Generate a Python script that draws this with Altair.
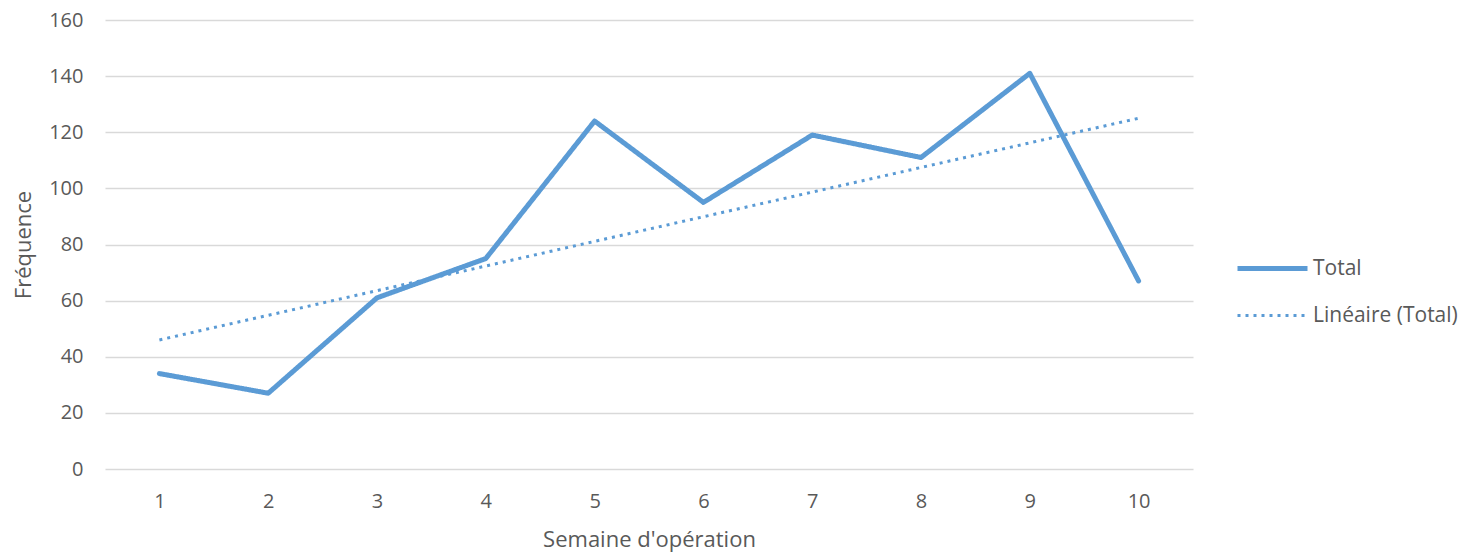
import altair as alt
import pandas as pd

# Weekly totals
weeks = [1, 2, 3, 4, 5, 6, 7, 8, 9, 10]
totals = [34, 27, 61, 75, 124, 95, 119, 111, 141, 67]

# Linear trendline endpoints (first and last week)
trend_weeks = [1, 10]
trend_values = [46, 125]

series_names = ["Total", "Linéaire (Total)"]

BLUE = "#5B9BD5"
TEXT = "#595959"
FONT = "Open Sans"
LABEL_SIZE = 20
TITLE_SIZE = 22

df_total = pd.DataFrame({"week": weeks, "value": totals, "series": series_names[0]})
df_trend = pd.DataFrame({"week": trend_weeks, "value": trend_values, "series": series_names[1]})

x_enc = alt.X(
    "week:O",
    scale=alt.Scale(domain=weeks),
    axis=alt.Axis(
        title="Semaine d'opération",
        labelAngle=0,
        grid=False,
        domain=False,
        ticks=False,
        labelFont=FONT,
        labelFontSize=LABEL_SIZE,
        labelColor=TEXT,
        titleFont=FONT,
        titleFontSize=TITLE_SIZE,
        titleColor=TEXT,
        titleFontWeight="normal",
        labelPadding=22,
        titlePadding=18,
    ),
)
y_enc = alt.Y(
    "value:Q",
    scale=alt.Scale(domain=[0, 160], nice=False),
    axis=alt.Axis(
        title="Fréquence",
        values=list(range(0, 161, 20)),
        grid=True,
        gridColor="#D9D9D9",
        gridWidth=1.3,
        domain=False,
        ticks=False,
        labelFont=FONT,
        labelFontSize=LABEL_SIZE,
        labelColor=TEXT,
        titleFont=FONT,
        titleFontSize=TITLE_SIZE,
        titleColor=TEXT,
        titleFontWeight="normal",
        labelPadding=22,
        titlePadding=13,
    ),
)


def series_legend():
    return alt.Legend(
        title=None,
        orient="none",
        legendX=1130,
        legendY=211,
        symbolType="stroke",
        symbolSize=4900,
        rowPadding=-29,
        labelOffset=3,
        labelFont=FONT,
        labelFontSize=21,
        labelColor=TEXT,
    )


color_enc = alt.Color(
    "series:N",
    scale=alt.Scale(domain=series_names, range=[BLUE, BLUE]),
    legend=series_legend(),
)
dash_enc = alt.StrokeDash(
    "series:N",
    scale=alt.Scale(domain=series_names, range=[[1, 0], [3, 5]]),
    legend=series_legend(),
)
width_enc = alt.StrokeWidth(
    "series:N",
    scale=alt.Scale(domain=series_names, range=[5, 3]),
    legend=series_legend(),
)

total_line = (
    alt.Chart(df_total)
    .mark_line(strokeCap="round", strokeJoin="round")
    .encode(x=x_enc, y=y_enc, color=color_enc, strokeDash=dash_enc, strokeWidth=width_enc)
)
trend_line = (
    alt.Chart(df_trend)
    .mark_line(strokeCap="butt")
    .encode(x=x_enc, y=y_enc, color=color_enc, strokeDash=dash_enc, strokeWidth=width_enc)
)

chart = (
    alt.layer(trend_line, total_line)
    .properties(
        width=1088,
        height=449,
        autosize=alt.AutoSizeParams(type="none"),
        padding={"left": 105, "top": 20, "right": 267, "bottom": 86},
    )
    .configure_view(stroke=None)
)

chart.save("out.html", embed_options={"renderer": "svg", "actions": False})
